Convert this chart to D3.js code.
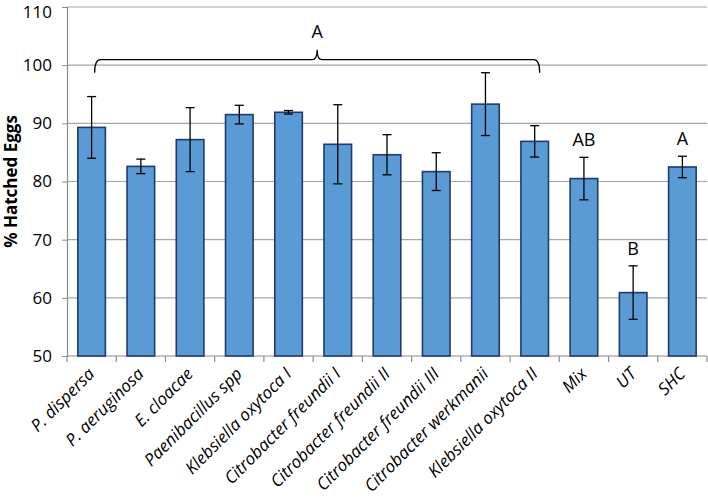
<!DOCTYPE html>
<html><head><meta charset="utf-8">
<script src="https://cdn.jsdelivr.net/npm/d3@7"></script>
<style>body{margin:0;background:#fff}svg{display:block}</style>
</head><body>
<script>
const categories = ["P. dispersa","P. aeruginosa","E. cloacae","Paenibacillus spp","Klebsiella oxytoca I","Citrobacter freundii I","Citrobacter freundii II","Citrobacter freundii III","Citrobacter werkmanii","Klebsiella oxytoca II","Mix","UT","SHC"];
const values = [89.3,82.6,87.2,91.5,91.9,86.4,84.6,81.7,93.3,86.9,80.5,60.9,82.5];
const errors = [5.3,1.25,5.5,1.6,0.3,6.8,3.45,3.25,5.4,2.7,3.65,4.6,1.85];
const letters = [null,null,null,null,null,null,null,null,null,null,"AB","B","A"];
const yTicks = [50,60,70,80,90,100,110];
const bracketLabel = "A";
const bracketFrom = 0, bracketTo = 9;

const W=708,H=498;
const m={l:67,r:1,t:7,b:142};
const svg=d3.select("body").append("svg").attr("width",W).attr("height",H);
const x=d3.scaleBand().domain(categories).range([m.l,W-m.r]).paddingInner(0.44).paddingOuter(0.22);
const y=d3.scaleLinear().domain([50,110]).range([H-m.b,m.t]);
const font="'Open Sans', 'Liberation Sans', sans-serif";

// gridlines
svg.append("g").selectAll("line").data(yTicks.slice(1)).join("line")
 .attr("x1",m.l).attr("x2",W-m.r).attr("y1",d=>y(d)).attr("y2",d=>y(d))
 .attr("stroke","#a6a6a6").attr("stroke-width",1.2);

// y axis
const ya=svg.append("g").attr("transform",`translate(${m.l},0)`)
 .call(d3.axisLeft(y).tickValues(yTicks).tickSize(5).tickPadding(10));
ya.select(".domain").attr("stroke","#8c8c8c").attr("stroke-width",1.2);
ya.selectAll(".tick line").attr("stroke","#8c8c8c");
ya.selectAll("text").attr("font-family",font).attr("font-size",17).attr("fill","#000");
ya.selectAll(".tick").filter(d=>d===110).select("text").attr("dy","0.6em");

// x axis
const xa=svg.append("g").attr("transform",`translate(0,${y(50)})`);
xa.append("line").attr("x1",m.l).attr("x2",W-m.r).attr("stroke","#8c8c8c").attr("stroke-width",1.2);
const bounds=d3.range(categories.length+1).map(i=>m.l+i*(W-m.r-m.l)/categories.length);
xa.selectAll("line.tk").data(bounds).join("line").attr("class","tk")
 .attr("x1",d=>d).attr("x2",d=>d).attr("y1",0).attr("y2",6).attr("stroke","#8c8c8c").attr("stroke-width",1.2);
xa.selectAll("text").data(categories).join("text")
 .attr("transform",d=>`translate(${x(d)+x.bandwidth()/2+4},${19}) rotate(-45)`)
 .attr("text-anchor","end").attr("font-family",font).attr("font-style","italic").attr("font-size",17)
 .text(d=>d);

// bars
svg.append("g").selectAll("rect").data(categories).join("rect")
 .attr("x",d=>x(d)).attr("width",x.bandwidth())
 .attr("y",(d,i)=>y(values[i])).attr("height",(d,i)=>y(50)-y(values[i]))
 .attr("fill","#5b9bd5").attr("stroke","#1f3b6e").attr("stroke-width",1.6);

// error bars
const eb=svg.append("g").attr("stroke","#000").attr("stroke-width",1.3);
categories.forEach((c,i)=>{
  const cx=x(c)+x.bandwidth()/2, hi=y(values[i]+errors[i]), lo=y(values[i]-errors[i]);
  eb.append("line").attr("x1",cx).attr("x2",cx).attr("y1",hi).attr("y2",lo);
  eb.append("line").attr("x1",cx-4.5).attr("x2",cx+4.5).attr("y1",hi).attr("y2",hi);
  eb.append("line").attr("x1",cx-4.5).attr("x2",cx+4.5).attr("y1",lo).attr("y2",lo);
  if(letters[i]) svg.append("text").attr("x",cx).attr("y",hi-11).attr("text-anchor","middle")
    .attr("font-family",font).attr("font-size",18).text(letters[i]);
});

// bracket
const bx0=x(categories[bracketFrom])+x.bandwidth()/2+3, bx1=x(categories[bracketTo])+x.bandwidth()/2+5;
const by=y(100)-5.5, bm=(bx0+bx1)/2;
const p=d3.path();
p.moveTo(bx0,by+13); p.quadraticCurveTo(bx0,by,bx0+6,by); p.lineTo(bm-5,by);
p.quadraticCurveTo(bm,by,bm,by-10); p.quadraticCurveTo(bm,by,bm+5,by);
p.lineTo(bx1-6,by); p.quadraticCurveTo(bx1,by,bx1,by+13);
svg.append("path").attr("d",p.toString()).attr("fill","none").attr("stroke","#000").attr("stroke-width",1.3);
svg.append("text").attr("x",bm).attr("y",by-22).attr("text-anchor","middle")
 .attr("font-family",font).attr("font-size",18).text(bracketLabel);

// y title
svg.append("text").attr("transform",`translate(17,${(y(50)+y(110))/2}) rotate(-90)`)
 .attr("text-anchor","middle").attr("font-family",font).attr("font-weight","bold").attr("font-size",17)
 .text("% Hatched Eggs");
</script>
</body></html>
